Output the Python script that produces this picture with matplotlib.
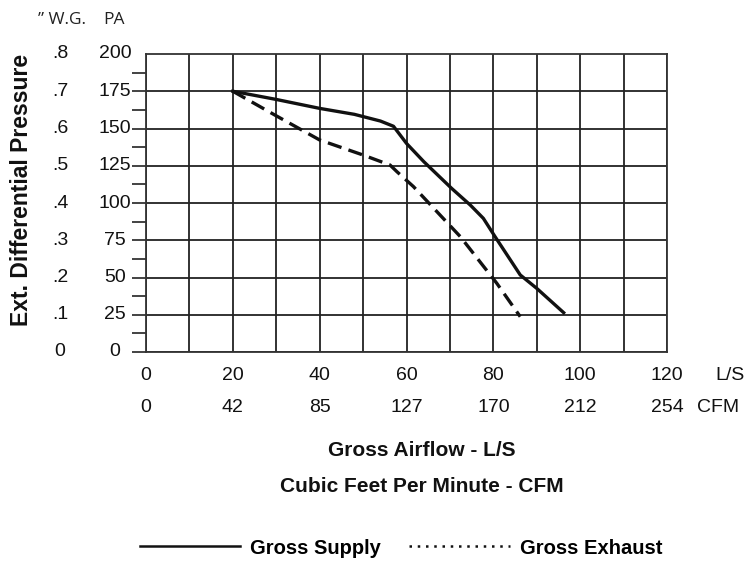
import numpy as np
import matplotlib.pyplot as plt
from matplotlib.lines import Line2D
import matplotlib.transforms as mtransforms

# airflow in L/S, pressure in Pa
supply_x = [20, 30, 40, 48, 54, 57, 60, 64, 70.4, 74.7, 77.7, 80.4, 86.2, 90, 96.2]
supply_y = [175, 169.5, 163.5, 159.5, 155, 151.5, 140, 127.7, 109.8, 98.6, 89.7, 77.4, 51.7, 42.7, 26.4]
exhaust_x = [20, 29.7, 40, 50, 56.2, 57.8, 61.6, 72.4, 80.8, 86.2]
exhaust_y = [175, 159, 142.3, 132.2, 125.5, 121, 111, 77.4, 46.1, 23.7]

ls_ticks = [0, 20, 40, 60, 80, 100, 120]
cfm_labels = ["0", "42", "85", "127", "170", "212", "254"]
pa_ticks = [0, 25, 50, 75, 100, 125, 150, 175, 200]
wg_labels = ["0", ".1", ".2", ".3", ".4", ".5", ".6", ".7", ".8"]

W, H = 744, 563
plt.rcParams['font.family'] = ['Liberation Sans', 'DejaVu Sans']
fig = plt.figure(figsize=(W / 100, H / 100), dpi=100)
ax = fig.add_axes([146 / W, 1 - 352 / H, 521 / W, 298 / H])

dark = '#222222'
ax.plot(supply_x, supply_y, color='#111111', lw=2.4, solid_joinstyle='round')
ax.plot(exhaust_x, exhaust_y, color='#111111', lw=2.4, dashes=(4.3, 2.2))

ax.set_xlim(0, 120)
ax.set_ylim(0, 200)

# grid
ax.set_xticks(np.arange(0, 121, 10))
ax.set_yticks(pa_ticks[:-1])
ax.set_yticks(np.arange(12.5, 200, 25), minor=True)
ax.grid(True, which='major', color=dark, lw=1.3)
ax.tick_params(axis='x', length=0, labelbottom=False)
ax.tick_params(axis='y', which='both', length=10, width=1.2, color=dark, labelleft=False)
for s in ax.spines.values():
    s.set_color('#333333')
    s.set_linewidth(1.3)

# x labels (two rows)
tick_fs = 14
for v, c in zip(ls_ticks, cfm_labels):
    ax.text(v, 0, str(v), transform=mtransforms.offset_copy(ax.transData, fig, x=0, y=-23, units='dots'),
            ha='center', va='center', fontsize=tick_fs, color='#111111')
    ax.text(v, 0, c, transform=mtransforms.offset_copy(ax.transData, fig, x=0, y=-56, units='dots'),
            ha='center', va='center', fontsize=tick_fs, color='#111111')
fig.text(715 / W, 1 - 375 / H, "L/S", ha='left', va='center', fontsize=tick_fs, color='#111111')
fig.text(697 / W, 1 - 408 / H, "CFM", ha='left', va='center', fontsize=tick_fs, color='#111111')

# y labels (two columns)
blend = mtransforms.blended_transform_factory(fig.transFigure, ax.transData)
for p, w in zip(pa_ticks, wg_labels):
    ax.text(115 / W, p, str(p), transform=blend, ha='center', va='center',
            fontsize=tick_fs, color='#111111')
    ax.text(60 / W, p, w, transform=blend, ha='center', va='center',
            fontsize=tick_fs, color='#111111')

fig.text(38 / W, 1 - 20 / H, "\u201d W.G.", ha='left', va='center', fontsize=12.5,
         family=['Open Sans', 'DejaVu Sans'], color='#222222')
fig.text(103 / W, 1 - 20 / H, "PA", ha='left', va='center', fontsize=12.5,
         family=['Open Sans', 'DejaVu Sans'], color='#222222')

fig.text(22 / W, 1 - 190 / H, "Ext. Differential Pressure", rotation=90, ha='center',
         va='center', fontsize=16.5, fontweight='bold', color='#111111')
fig.text(422 / W, 1 - 450 / H, "Gross Airflow - L/S", ha='center', va='center',
         fontsize=15, fontweight='bold', color='#111111')
fig.text(422 / W, 1 - 486 / H, "Cubic Feet Per Minute - CFM", ha='center', va='center',
         fontsize=15, fontweight='bold', color='#111111')

handles = [Line2D([], [], color='#111111', lw=1.8),
           Line2D([], [], color='#111111', lw=1.8, linestyle=(0, (1, 2.3)))]
fig.legend(handles, ["Gross Supply", "Gross Exhaust"], loc='center',
           bbox_to_anchor=(401 / W, 1 - 548 / H), ncol=2, frameon=False,
           handlelength=5, handletextpad=0.5, columnspacing=1.4,
           prop={'weight': 'bold', 'size': 14.5})

fig.savefig("out.png", dpi=100)
